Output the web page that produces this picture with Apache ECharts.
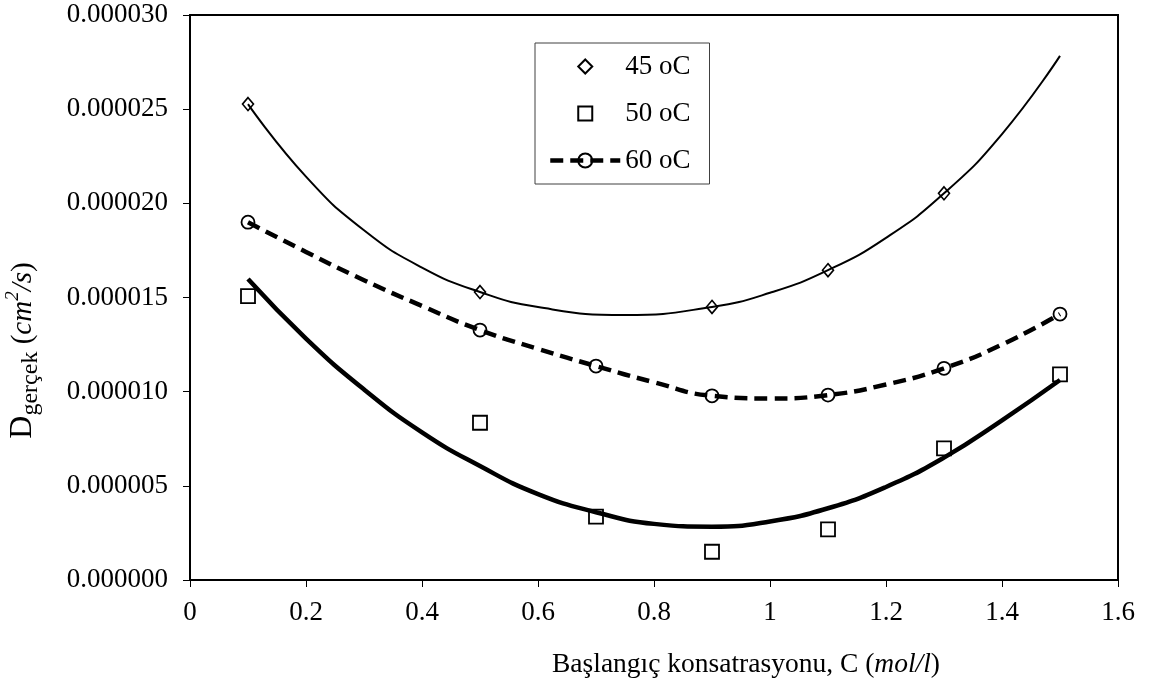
<!DOCTYPE html>
<html><head><meta charset="utf-8">
<script src="https://cdn.jsdelivr.net/npm/echarts/dist/echarts.min.js"></script>
<style>html,body{margin:0;padding:0;background:#fff}#c{width:1150px;height:681px}</style>
</head><body><div id="c"></div>
<script>
// ---- data ----
const seriesNames = ['45 oC', '50 oC', '60 oC'];
const x45 = [0.1, 0.5, 0.9, 1.1, 1.3];
const d45 = [0.00002527, 0.00001529, 0.00001450, 0.00001645, 0.00002053];
const x50 = [0.1, 0.5, 0.7, 0.9, 1.1, 1.3, 1.5];
const d50 = [0.00001507, 0.00000835, 0.00000336, 0.00000150, 0.00000269, 0.00000699, 0.00001092];
const x60 = [0.1, 0.5, 0.7, 0.9, 1.1, 1.3, 1.5];
const d60 = [0.00001900, 0.00001327, 0.00001136, 0.00000978, 0.00000982, 0.00001124, 0.00001412];
// fitted/smoothed curves as drawn in the picture
const curveX45 = [0.1, 0.2, 0.3, 0.4, 0.5, 0.6, 0.75, 0.9, 1.0, 1.1, 1.2, 1.3, 1.4, 1.5];
const curve45 = [0.00002527, 0.00002142, 0.00001857, 0.00001659, 0.00001529, 0.00001449, 0.00001407,
                 0.00001450, 0.00001525, 0.00001645, 0.00001817, 0.00002053, 0.00002368, 0.00002783];
const curveX50 = [0.1, 0.2, 0.3, 0.4, 0.5, 0.6, 0.7, 0.8, 0.9, 1.0, 1.1, 1.2, 1.3, 1.4, 1.5];
const curve50 = [0.00001598, 0.00001282, 0.00001012, 0.00000784, 0.00000605, 0.00000456, 0.00000360, 0.00000298,
                 0.00000283, 0.00000311, 0.00000381, 0.00000494, 0.00000650, 0.00000848, 0.00001062];
const curveX60 = [0.1, 0.2, 0.3, 0.4, 0.5, 0.6, 0.7, 0.8, 0.9, 1.0, 1.1, 1.2, 1.3, 1.4, 1.5];
const curve60 = [0.00001900, 0.00001742, 0.00001592, 0.00001455, 0.00001327, 0.00001227, 0.00001136, 0.00001050,
                 0.00000978, 0.00000964, 0.00000982, 0.00001038, 0.00001124, 0.00001250, 0.00001412];
const xTicks = { min: 0, max: 1.6, interval: 0.2 };
const yTicks = { min: 0, max: 0.00003, interval: 0.000005 };

const zip = (xs, ys) => xs.map((x, i) => [x, ys[i]]);
const FONT = 'Liberation Serif';
const hollow = w => ({ color: 'rgba(255,255,255,0)', borderColor: '#000', borderWidth: w });
const DASH60 = { color: '#000', width: 4.5, type: [13, 7] };

const chart = echarts.init(document.getElementById('c'), null, { renderer: 'canvas' });
chart.setOption({
  animation: false,
  backgroundColor: '#fff',
  textStyle: { fontFamily: FONT, color: '#000' },
  grid: { left: 190, right: 32, top: 15, bottom: 101, show: true, borderColor: '#000', borderWidth: 2, outerBoundsMode: 'none' },
  legend: {
    orient: 'vertical', left: 535, top: 43,
    itemWidth: 70, itemHeight: 17.5, itemGap: 20,
    padding: [10, 19, 10, 13],
    borderColor: '#404040', borderWidth: 1,
    textStyle: { fontFamily: FONT, fontSize: 27, color: '#000' },
    data: [
      { name: seriesNames[0] },
      { name: seriesNames[1] },
      { name: seriesNames[2], lineStyle: Object.assign({ opacity: 1 }, DASH60) }
    ]
  },
  xAxis: {
    type: 'value', min: xTicks.min, max: xTicks.max, interval: xTicks.interval,
    axisLine: { lineStyle: { color: '#000', width: 2 } },
    axisTick: { show: true, length: 7, lineStyle: { color: '#000', width: 1 } },
    splitLine: { show: false },
    axisLabel: { color: '#000', fontFamily: FONT, fontSize: 27, margin: 19 },
    name: '{n|Başlangıç konsatrasyonu, C (}{i|mol/l}{n|)}',
    nameLocation: 'middle', nameGap: 71,
    nameTextStyle: {
      padding: [0, 0, 0, 184],
      rich: {
        n: { fontFamily: FONT, fontSize: 27.5, color: '#000' },
        i: { fontFamily: FONT, fontSize: 27.5, fontStyle: 'italic', color: '#000' }
      }
    }
  },
  yAxis: {
    type: 'value', min: yTicks.min, max: yTicks.max, interval: yTicks.interval,
    axisLine: { show: true, lineStyle: { color: '#000', width: 2 } },
    axisTick: { show: true, length: 7, lineStyle: { color: '#000', width: 1 } },
    splitLine: { show: false },
    axisLabel: { color: '#000', fontFamily: FONT, fontSize: 27, margin: 22,
      formatter: v => v.toFixed(6) },
    name: '{d|D}{sub|gerçek}{n| (}{i|cm}{sup|2}{i|/s}{n|)}',
    nameLocation: 'middle', nameGap: 147,
    nameTextStyle: {
      padding: [0, 106, 0, 0],
      rich: {
        d: { fontFamily: FONT, fontSize: 32, color: '#000', lineHeight: 40, verticalAlign: 'middle' },
        sub: { fontFamily: FONT, fontSize: 24, color: '#000', lineHeight: 17, verticalAlign: 'bottom' },
        n: { fontFamily: FONT, fontSize: 29, color: '#000', lineHeight: 40, verticalAlign: 'middle' },
        i: { fontFamily: FONT, fontSize: 29, fontStyle: 'italic', color: '#000', lineHeight: 40, verticalAlign: 'middle' },
        sup: { fontFamily: FONT, fontSize: 19, fontStyle: 'italic', color: '#000', lineHeight: 30, verticalAlign: 'top' }
      }
    }
  },
  series: [
    { name: 'curve45', type: 'line', data: zip(curveX45, curve45), smooth: 0.5, showSymbol: false, silent: true,
      lineStyle: { color: '#000', width: 2 }, z: 1 },
    { name: 'curve50', type: 'line', data: zip(curveX50, curve50), smooth: 0.5, showSymbol: false, silent: true,
      lineStyle: { color: '#000', width: 4.5 }, z: 1 },
    { name: 'curve60', type: 'line', data: zip(curveX60, curve60), smooth: 0.5, showSymbol: false, silent: true,
      lineStyle: DASH60, z: 1 },
    { name: seriesNames[0], type: 'line', data: zip(x45, d45), symbol: 'diamond', symbolSize: [11, 13], showSymbol: true,
      lineStyle: { opacity: 0 }, itemStyle: hollow(1.6), z: 3 },
    { name: seriesNames[1], type: 'line', data: zip(x50, d50), symbol: 'rect', symbolSize: 14, showSymbol: true,
      lineStyle: { opacity: 0 }, itemStyle: hollow(1.8), z: 3 },
    { name: seriesNames[2], type: 'line', data: zip(x60, d60), symbol: 'circle', symbolSize: 13, showSymbol: true,
      lineStyle: { opacity: 0 }, itemStyle: hollow(1.8), z: 3 }
  ]
});
</script></body></html>
